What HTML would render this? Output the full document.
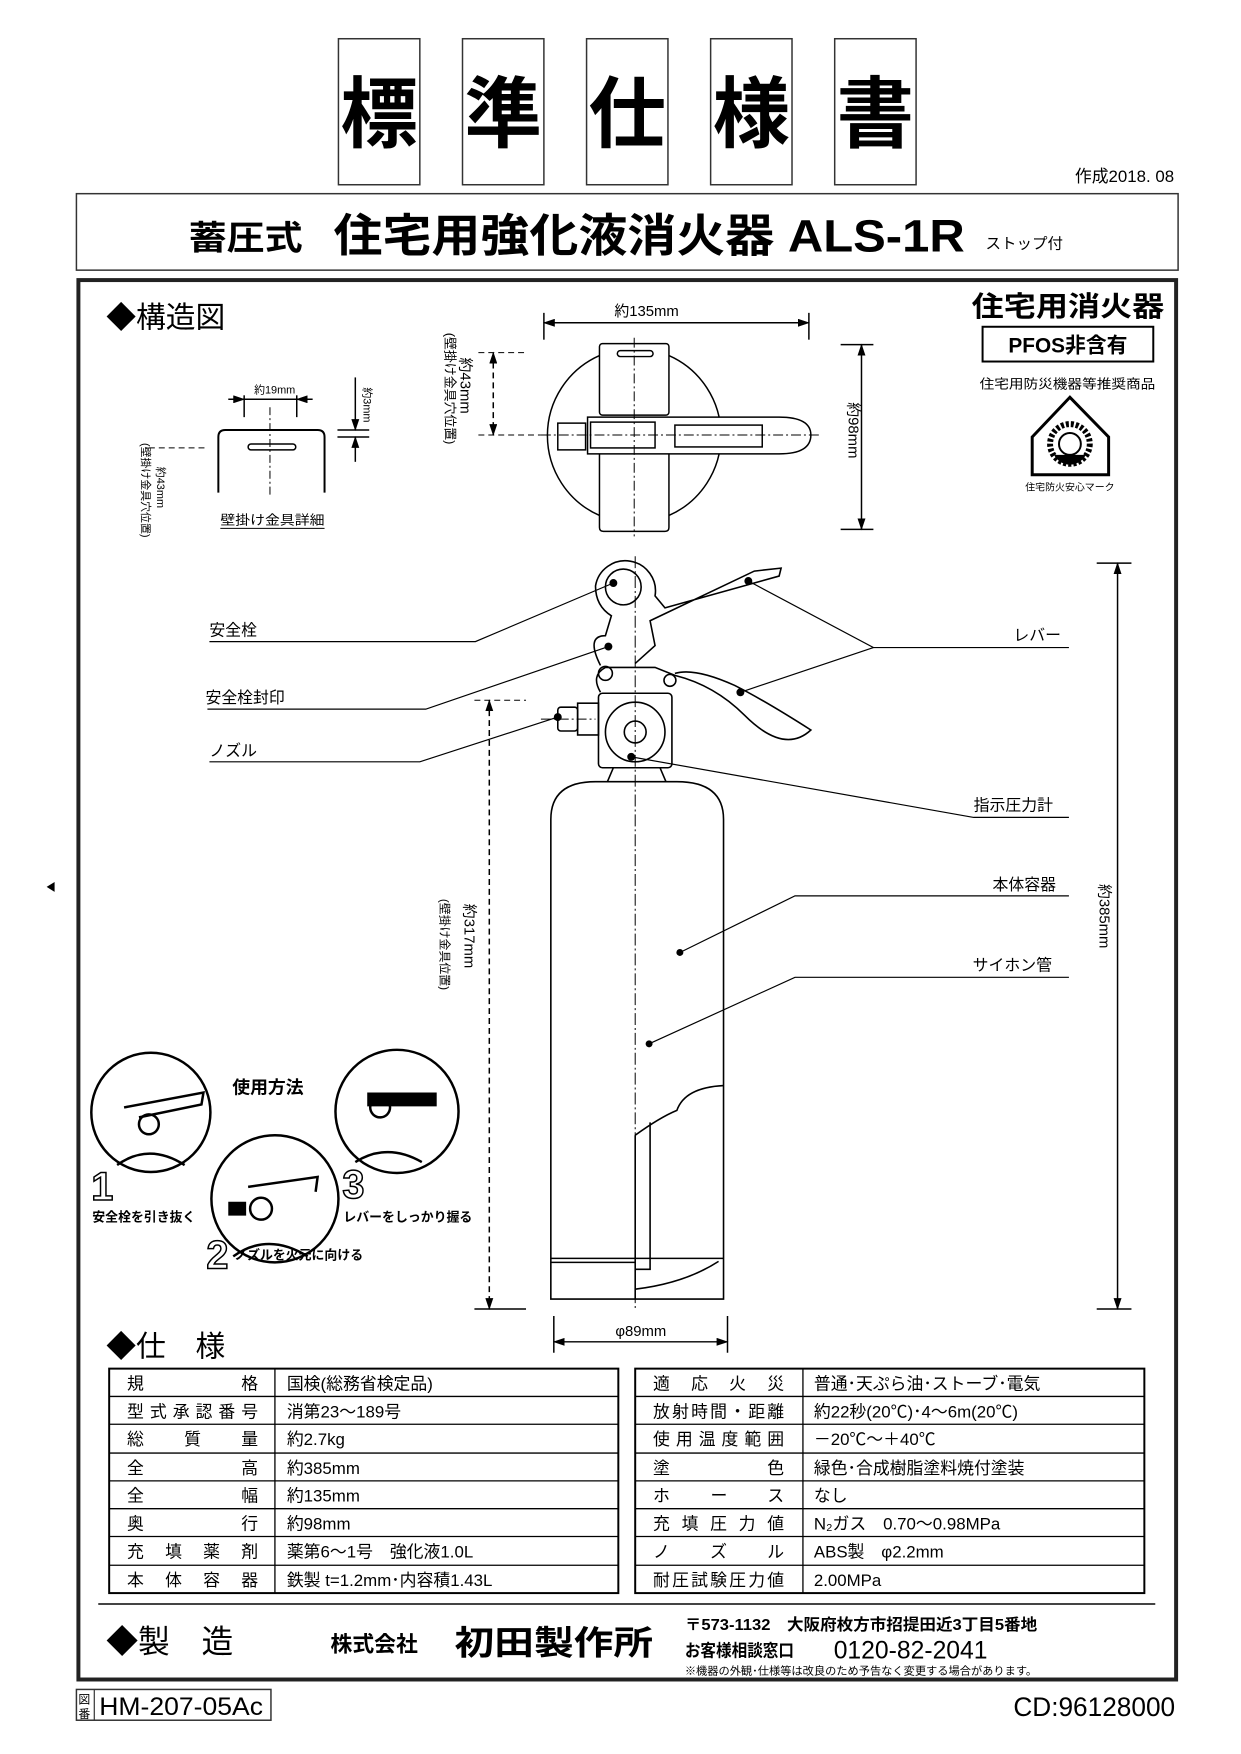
<!DOCTYPE html>
<html><head><meta charset="utf-8"><style>
html,body{margin:0;padding:0;background:#fff;}
svg{display:block;font-family:"Liberation Sans","Noto Sans CJK JP",sans-serif;}
</style></head><body>
<svg width="1241" height="1754" viewBox="0 0 1241 1754" xmlns="http://www.w3.org/2000/svg">
<defs>
<marker id="ar" markerWidth="12" markerHeight="8" refX="11" refY="4" orient="auto-start-reverse" markerUnits="userSpaceOnUse"><path d="M0,0 L12,4 L0,8 z" fill="#000"/></marker>
</defs>
<g transform="scale(0.9925 0.9932)">
<g fill="none" stroke="#333" stroke-width="1.5">
<rect x="341" y="39" width="82" height="147"/><rect x="466" y="39" width="82" height="147"/>
<rect x="591" y="39" width="82" height="147"/><rect x="716" y="39" width="82" height="147"/>
<rect x="841" y="39" width="82" height="147"/>
<rect x="77" y="195" width="1110" height="77"/>
</g>
<g font-size="78" font-weight="bold" text-anchor="middle" font-family="'Noto Sans CJK JP',sans-serif">
<text x="382" y="142">標</text><text x="507" y="142">準</text><text x="632" y="142">仕</text><text x="757" y="142">様</text><text x="882" y="142">書</text>
</g>
<text x="1083" y="183" font-size="17" textLength="100" lengthAdjust="spacingAndGlyphs">作成2018. 08</text>
<text x="190" y="251" font-size="34" font-weight="bold" textLength="115" lengthAdjust="spacingAndGlyphs">蓄圧式</text>
<text x="336" y="253" font-size="46" font-weight="bold" textLength="636" lengthAdjust="spacingAndGlyphs">住宅用強化液消火器 ALS-1R</text>
<text x="993" y="250" font-size="15" textLength="78" lengthAdjust="spacingAndGlyphs">ストップ付</text>
<rect x="79" y="282" width="1106" height="1409" fill="none" stroke="#222" stroke-width="4"/>

<text x="107" y="330" font-size="30" font-weight="bold">◆<tspan font-weight="normal">構造図</tspan></text>
<text x="979" y="318" font-size="28" font-weight="bold" textLength="194" lengthAdjust="spacingAndGlyphs">住宅用消火器</text>
<rect x="990" y="329" width="172" height="35" fill="none" stroke="#000" stroke-width="2"/>
<text x="1076" y="355" font-size="21" font-weight="bold" text-anchor="middle">PFOS非含有</text>
<text x="987" y="391" font-size="13" textLength="177" lengthAdjust="spacingAndGlyphs">住宅用防災機器等推奨商品</text>
<path d="M1040,440 L1078,400 L1117,440 L1117,478 L1040,478 Z" fill="none" stroke="#000" stroke-width="3"/>
<circle cx="1078" cy="447" r="20" fill="none" stroke="#000" stroke-width="6" stroke-dasharray="3 2"/>
<circle cx="1078" cy="447" r="11" fill="#fff" stroke="#000" stroke-width="2"/>
<path d="M1062,458 A18,18 0 0 0 1094,458 Z" fill="#000"/>
<text x="1033" y="494" font-size="10" textLength="90" lengthAdjust="spacingAndGlyphs">住宅防火安心マーク</text>
<path d="M47,893 l8,-5 v10z" fill="#000"/>

<g stroke="#000" fill="none" stroke-width="1.5">
<path d="M220,496 V440 q0,-7 7,-7 H320 q7,0 7,7 V496" stroke-width="2"/>
<rect x="250" y="447" width="48" height="6" rx="3"/>
<line x1="246" y1="398" x2="246" y2="420"/><line x1="299" y1="398" x2="299" y2="420"/>
<line x1="230" y1="402" x2="246" y2="402" marker-end="url(#ar)"/><line x1="315" y1="402" x2="299" y2="402" marker-end="url(#ar)"/>
<line x1="246" y1="402" x2="299" y2="402"/>
<line x1="272" y1="410" x2="272" y2="500" stroke-dasharray="8 3 2 3" stroke-width="1"/>
<line x1="150" y1="451" x2="210" y2="451" stroke-dasharray="6 4" stroke-width="1"/>
<line x1="340" y1="433" x2="372" y2="433"/><line x1="340" y1="440" x2="372" y2="440"/>
<line x1="358" y1="380" x2="358" y2="433" marker-end="url(#ar)"/><line x1="358" y1="465" x2="358" y2="440" marker-end="url(#ar)"/>
<line x1="222" y1="532" x2="327" y2="532" stroke-width="1"/>
</g>
<text x="256" y="396" font-size="11">約19mm</text>
<text transform="translate(366,390) rotate(90)" font-size="11">約3mm</text>
<text x="222" y="528" font-size="13" textLength="105" lengthAdjust="spacingAndGlyphs">壁掛け金具詳細</text>
<text transform="translate(143,446) rotate(90)" font-size="11">(壁掛け金具穴位置)</text>
<text transform="translate(158,470) rotate(90)" font-size="11">約43mm</text>

<g stroke="#000" fill="none" stroke-width="1.5">
<line x1="548" y1="315" x2="548" y2="342"/><line x1="815" y1="315" x2="815" y2="342"/>
<line x1="548" y1="325" x2="815" y2="325" marker-start="url(#ar)" marker-end="url(#ar)"/>
<line x1="847" y1="347" x2="880" y2="347"/><line x1="847" y1="533" x2="880" y2="533"/>
<line x1="868" y1="347" x2="868" y2="533" marker-start="url(#ar)" marker-end="url(#ar)"/>
<line x1="482" y1="355" x2="530" y2="355" stroke-dasharray="6 4" stroke-width="1"/>
<line x1="482" y1="438" x2="545" y2="438" stroke-dasharray="6 4" stroke-width="1"/>
<line x1="497" y1="355" x2="497" y2="438" marker-start="url(#ar)" marker-end="url(#ar)" stroke-dasharray="6 4"/>
<path d="M604,358 A88,88 0 0 0 604,519"/><path d="M674,358 A88,88 0 0 1 674,519"/>
<rect x="604" y="346" width="70" height="72" rx="3" fill="#fff"/>
<path d="M604,457 V531 q0,4 4,4 H670 q4,0 4,-4 V457"/>
<rect x="622" y="353" width="36" height="6" rx="3"/>
<path d="M562,426 h28 v27 h-28 z"/>
<path d="M592,420 H785 Q817,420 817,438 Q817,457 785,457 H592 Z" fill="#fff"/>
<rect x="595" y="425" width="65" height="26"/><rect x="680" y="428" width="88" height="22"/>
<line x1="639" y1="340" x2="639" y2="540" stroke-dasharray="10 3 2 3" stroke-width="1"/>
<line x1="545" y1="438" x2="825" y2="438" stroke-dasharray="10 3 2 3" stroke-width="1"/>
</g>
<text x="619" y="318" font-size="15">約135mm</text>
<text transform="translate(855,405) rotate(90)" font-size="15">約98mm</text>
<text transform="translate(449,335) rotate(90)" font-size="13">(壁掛け金具穴位置)</text>
<text transform="translate(464,360) rotate(90)" font-size="15">約43mm</text>

<g stroke="#000" fill="none" stroke-width="1.6">
<path d="M555,1308 V825 Q555,787 600,787 H682 Q729,787 729,825 V1308 Z" fill="#fff"/>
<line x1="555" y1="1267" x2="729" y2="1267"/><line x1="555" y1="1271" x2="640" y2="1271"/>
<path d="M729,1093 Q690,1095 682,1118 Q665,1125 640,1143"/>
<path d="M640,1143 V1308"/><path d="M655,1130 V1278 H640"/>
<path d="M640,1298 Q690,1292 724,1270"/>
<path d="M612,787 L618,773 H665 L671,787"/>
<rect x="603" y="698" width="74" height="75" rx="4" fill="#fff"/>
<circle cx="640" cy="737" r="30"/><circle cx="640" cy="737" r="11"/>
<rect x="562" y="712" width="20" height="24" rx="3"/><rect x="582" y="708" width="21" height="32"/>
<path d="M605,697 Q595,680 610,672 L660,672 L680,680 Q720,690 750,720 Q790,760 817,735 Q770,705 740,690 Q700,672 680,678"/>
<path d="M605,670 Q590,640 610,640 L616,620 Q600,610 600,590 A30,30 0 1 1 660,600 L670,612 L785,580 L787,572 L760,575 L655,625 L660,650 L640,668"/>
<circle cx="628" cy="591" r="18"/>
<circle cx="610" cy="678" r="7"/><circle cx="675" cy="685" r="6"/>
<line x1="640" y1="560" x2="640" y2="1320" stroke-dasharray="12 3 2 3" stroke-width="1"/>
<line x1="545" y1="724" x2="600" y2="724" stroke-dasharray="10 3 2 3" stroke-width="1"/>
</g>
<g fill="#000"><circle cx="618" cy="587" r="4"/><circle cx="613" cy="651" r="4"/><circle cx="562" cy="722" r="4"/>
<circle cx="754" cy="585" r="4"/><circle cx="746" cy="697" r="4"/><circle cx="636" cy="762" r="4"/><circle cx="685" cy="959" r="3.5"/><circle cx="654" cy="1051" r="3.5"/></g>

<g stroke="#000" fill="none" stroke-width="1.2">
<polyline points="211,646 479,646 618,587"/>
<polyline points="209,714 429,714 613,651"/>
<polyline points="211,767 423,767 562,722"/>
<polyline points="1077,652 880,652 754,585"/><line x1="880" y1="652" x2="746" y2="697"/>
<polyline points="1077,823 981,823 636,762"/>
<polyline points="1077,902 801,902 685,959"/>
<polyline points="1077,984 801,984 654,1051"/>
</g>
<g font-size="16">
<text x="211" y="640">安全栓</text><text x="207" y="708">安全栓封印</text><text x="211" y="761">ノズル</text>
<text x="1021" y="645">レバー</text><text x="981" y="816">指示圧力計</text><text x="1000" y="896">本体容器</text><text x="980" y="977">サイホン管</text>
</g>

<g stroke="#000" fill="none" stroke-width="1.5">
<line x1="1105" y1="567" x2="1140" y2="567"/><line x1="1105" y1="1318" x2="1140" y2="1318"/>
<line x1="1126" y1="567" x2="1126" y2="1318" marker-start="url(#ar)" marker-end="url(#ar)"/>
<line x1="478" y1="705" x2="530" y2="705" stroke-dasharray="6 4" stroke-width="1"/>
<line x1="478" y1="1318" x2="530" y2="1318"/>
<line x1="493" y1="705" x2="493" y2="1318" marker-start="url(#ar)" marker-end="url(#ar)" stroke-dasharray="6 4"/>
<line x1="558" y1="1325" x2="558" y2="1362"/><line x1="733" y1="1325" x2="733" y2="1362"/>
<line x1="558" y1="1351" x2="733" y2="1351" marker-start="url(#ar)" marker-end="url(#ar)"/>
</g>
<text transform="translate(1108,890) rotate(90)" font-size="15">約385mm</text>
<text transform="translate(468,910) rotate(90)" font-size="15">約317mm</text>
<text transform="translate(444,905) rotate(90)" font-size="12">(壁掛け金具位置)</text>
<text x="620" y="1345" font-size="15">φ89mm</text>

<g stroke="#000" fill="none" stroke-width="2.5">
<circle cx="152" cy="1120" r="60"/><circle cx="277" cy="1207" r="64"/><circle cx="400" cy="1119" r="62"/>
<path d="M118,1173 Q150,1150 186,1173"/><path d="M125,1115 L205,1100 L203,1112 L140,1125"/><circle cx="150" cy="1132" r="10"/>
<path d="M235,1265 Q270,1240 310,1265"/><circle cx="263" cy="1217" r="11"/><path d="M250,1195 L320,1185 L318,1200"/>
<path d="M358,1170 Q390,1150 425,1170"/><circle cx="383" cy="1115" r="10"/>
</g>
<path d="M370,1100 h70 v14 h-70z" fill="#000"/><path d="M230,1210 h18 v14 h-18z" fill="#000"/>
<text x="234" y="1101" font-size="18" font-weight="bold">使用方法</text>
<g font-size="40" fill="#fff" stroke="#000" stroke-width="1.5" font-weight="bold">
<text x="92" y="1208">1</text><text x="208" y="1277">2</text><text x="345" y="1206">3</text></g>
<g font-size="13" font-weight="bold">
<text x="93" y="1230">安全栓を引き抜く</text><text x="236" y="1268">ノズルを火元に向ける</text><text x="346" y="1230">レバーをしっかり握る</text></g>

<text x="107" y="1366" font-size="30" font-weight="bold">◆<tspan font-weight="normal">仕　様</tspan></text>
<g stroke="#000" fill="none" stroke-width="1.3">
<rect x="110" y="1378" width="513" height="226" stroke-width="2"/><line x1="277" y1="1378" x2="277" y2="1604"/>
<rect x="640" y="1378" width="513" height="226" stroke-width="2"/><line x1="809" y1="1378" x2="809" y2="1604"/>
<path d="M110,1406H623M110,1434H623M110,1463H623M110,1491H623M110,1519H623M110,1547H623M110,1576H623"/>
<path d="M640,1406H1153M640,1434H1153M640,1463H1153M640,1491H1153M640,1519H1153M640,1547H1153M640,1576H1153"/>
</g>
<g font-size="17">
<text x="128" y="1399" textLength="132" lengthAdjust="spacing">規格</text>
<text x="128" y="1427" textLength="132" lengthAdjust="spacing">型式承認番号</text>
<text x="128" y="1455" textLength="132" lengthAdjust="spacing">総質量</text>
<text x="128" y="1484" textLength="132" lengthAdjust="spacing">全高</text>
<text x="128" y="1512" textLength="132" lengthAdjust="spacing">全幅</text>
<text x="128" y="1540" textLength="132" lengthAdjust="spacing">奥行</text>
<text x="128" y="1568" textLength="132" lengthAdjust="spacing">充填薬剤</text>
<text x="128" y="1597" textLength="132" lengthAdjust="spacing">本体容器</text>
<text x="289" y="1399">国検(総務省検定品)</text>
<text x="289" y="1427">消第23～189号</text>
<text x="289" y="1455">約2.7kg</text>
<text x="289" y="1484">約385mm</text>
<text x="289" y="1512">約135mm</text>
<text x="289" y="1540">約98mm</text>
<text x="289" y="1568">薬第6～1号　強化液1.0L</text>
<text x="289" y="1597">鉄製 t=1.2mm･内容積1.43L</text>
<text x="658" y="1399" textLength="132" lengthAdjust="spacing">適応火災</text>
<text x="658" y="1427" textLength="132" lengthAdjust="spacing">放射時間・距離</text>
<text x="658" y="1455" textLength="132" lengthAdjust="spacing">使用温度範囲</text>
<text x="658" y="1484" textLength="132" lengthAdjust="spacing">塗色</text>
<text x="658" y="1512" textLength="132" lengthAdjust="spacing">ホース</text>
<text x="658" y="1540" textLength="132" lengthAdjust="spacing">充填圧力値</text>
<text x="658" y="1568" textLength="132" lengthAdjust="spacing">ノズル</text>
<text x="658" y="1597" textLength="132" lengthAdjust="spacing">耐圧試験圧力値</text>
<text x="820" y="1399">普通･天ぷら油･ストーブ･電気</text>
<text x="820" y="1427">約22秒(20℃)･4～6m(20℃)</text>
<text x="820" y="1455">－20℃～＋40℃</text>
<text x="820" y="1484">緑色･合成樹脂塗料焼付塗装</text>
<text x="820" y="1512">なし</text>
<text x="820" y="1540">N₂ガス　0.70～0.98MPa</text>
<text x="820" y="1568">ABS製　φ2.2mm</text>
<text x="820" y="1597">2.00MPa</text>
</g>
<line x1="99" y1="1615" x2="1164" y2="1615" stroke="#444" stroke-width="2"/>

<text x="107" y="1664" font-size="32" font-weight="bold">◆<tspan font-weight="normal">製　造</tspan></text>
<text x="333" y="1663" font-size="22" font-weight="bold">株式会社</text>
<text x="458" y="1666" font-size="34" font-weight="bold" textLength="200" lengthAdjust="spacingAndGlyphs">初田製作所</text>
<text x="690" y="1641" font-size="16" font-weight="bold" textLength="355" lengthAdjust="spacingAndGlyphs">〒573-1132　大阪府枚方市招提田近3丁目5番地</text>
<text x="690" y="1668" font-size="17" font-weight="bold" textLength="110" lengthAdjust="spacingAndGlyphs">お客様相談窓口</text>
<text x="840" y="1670" font-size="25" textLength="155" lengthAdjust="spacingAndGlyphs">0120-82-2041</text>
<text x="690" y="1686" font-size="11" textLength="355" lengthAdjust="spacingAndGlyphs">※機器の外観･仕様等は改良のため予告なく変更する場合があります。</text>

<rect x="77" y="1701" width="196" height="31" fill="none" stroke="#333" stroke-width="1.5"/>
<line x1="95" y1="1701" x2="95" y2="1732" stroke="#333" stroke-width="1.2"/>
<text x="79" y="1715" font-size="12">図</text><text x="79" y="1730" font-size="12">番</text>
<text x="100" y="1727" font-size="25" textLength="165" lengthAdjust="spacingAndGlyphs">HM-207-05Ac</text>
<text x="1021" y="1728" font-size="27" textLength="163" lengthAdjust="spacingAndGlyphs">CD:96128000</text>
</g>
</svg>
</body></html>
